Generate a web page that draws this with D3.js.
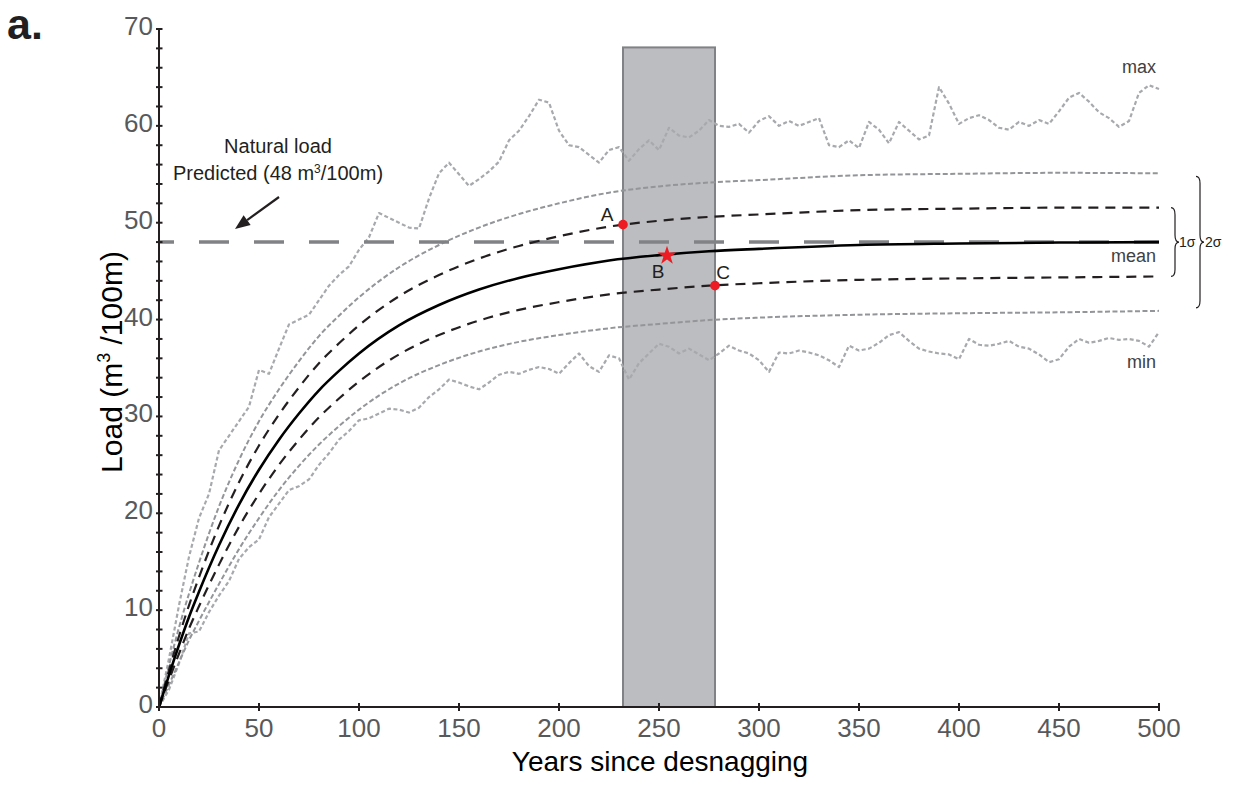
<!DOCTYPE html>
<html>
<head>
<meta charset="utf-8">
<script src="https://cdn.jsdelivr.net/npm/d3@7"></script>
<style>
  html, body { margin: 0; padding: 0; background: #fff; }
  svg { display: block; font-family: "Liberation Sans", Arial, Helvetica, sans-serif; }
</style>
</head>
<body>
<svg id="chart" width="1233" height="786"></svg>
<script>
// Years at which the smooth statistics (mean, ±1σ, ±2σ) are tabulated
const statYears = [0, 5, 10, 15, 20, 30, 40, 50, 60, 70, 80, 90, 100, 120, 140, 160, 180, 200, 225, 250, 275, 300, 350, 400, 450, 500];
const meanLoad  = [0, 3.3, 6.4, 9.3, 11.9, 16.7, 20.9, 24.5, 27.6, 30.3, 32.7, 34.7, 36.5, 39.4, 41.5, 43.1, 44.3, 45.2, 46.1, 46.65, 47.05, 47.3, 47.7, 47.85, 47.95, 48.0];
const plus1Load = [0, 3.8, 7.3, 10.5, 13.4, 18.7, 23.2, 27.0, 30.2, 33.0, 35.5, 37.55, 39.4, 42.4, 44.6, 46.3, 47.6, 48.6, 49.6, 50.2, 50.6, 50.85, 51.3, 51.45, 51.55, 51.55];
const minus1Load = [0, 2.8, 5.5, 8.1, 10.4, 14.7, 18.6, 22.0, 25.0, 27.6, 29.9, 31.85, 33.6, 36.4, 38.4, 39.9, 41.0, 41.8, 42.6, 43.1, 43.5, 43.75, 44.1, 44.25, 44.35, 44.45];
const plus2Load = [0, 4.3, 8.2, 11.7, 14.9, 20.7, 25.5, 29.5, 32.8, 35.7, 38.3, 40.4, 42.3, 45.4, 47.7, 49.5, 50.9, 52.0, 53.1, 53.75, 54.15, 54.4, 54.9, 55.05, 55.15, 55.1];
const minus2Load = [0, 2.3, 4.6, 6.9, 8.9, 12.7, 16.3, 19.5, 22.4, 24.9, 27.1, 29.0, 30.7, 33.4, 35.3, 36.7, 37.7, 38.4, 39.1, 39.55, 39.95, 40.2, 40.5, 40.65, 40.75, 40.9];

// Envelope of all simulations, every 5 years
const envYears = d3.range(0, 501, 5);
const maxLoad = [0, 5.0, 10.5, 15.5, 19.5, 22.0, 26.5, 28.0, 29.5, 31.0, 34.8, 34.4, 37.0, 39.5, 40.0, 40.5, 42.0, 43.5, 44.6, 45.5,
  47.2, 48.5, 51.0, 50.5, 50.0, 49.5, 49.4, 52.5, 55.1, 56.2, 55.0, 53.8, 54.5, 55.3, 56.3, 58.5, 59.5, 61.0, 62.7, 62.4,
  59.5, 58.0, 57.8, 57.0, 56.2, 57.5, 57.8, 56.4, 57.6, 58.5, 57.5, 59.8, 59.0, 58.8, 59.5, 60.6, 60.0, 59.9, 60.2, 59.3,
  60.5, 61.0, 60.0, 60.5, 60.0, 60.4, 60.8, 58.0, 57.8, 58.5, 57.7, 60.4, 59.6, 58.2, 60.4, 59.5, 58.6, 59.0, 64.0, 62.3,
  60.2, 60.8, 61.1, 60.6, 59.8, 59.6, 60.4, 60.0, 60.6, 60.2, 61.5, 62.9, 63.4, 62.5, 61.4, 60.8, 59.9, 60.5, 63.4, 64.2, 63.8];
const minLoad = [0, 1.8, 4.5, 7.6, 7.8, 9.8, 11.5, 13.0, 15.3, 16.5, 17.3, 19.6, 21.0, 22.4, 22.8, 23.5, 25.0, 26.2, 27.6, 28.5,
  29.6, 29.8, 30.3, 30.8, 30.7, 30.4, 30.9, 32.0, 32.8, 33.8, 33.5, 33.1, 32.8, 33.5, 34.3, 34.6, 34.4, 34.8, 35.1, 34.9,
  34.4, 35.5, 36.5, 35.2, 34.6, 36.3, 36.0, 33.8, 35.5, 36.5, 37.5, 37.2, 36.5, 37.0, 36.4, 35.8, 36.5, 37.3, 36.8, 36.5,
  35.8, 34.6, 36.6, 36.5, 36.8, 36.6, 36.3, 35.8, 35.1, 37.3, 36.8, 37.0, 37.6, 38.4, 38.7, 37.8, 37.0, 36.7, 36.5, 36.4,
  35.9, 38.0, 37.4, 37.3, 37.5, 37.8, 37.2, 37.0, 36.4, 35.6, 35.9, 37.2, 38.0, 37.6, 37.8, 38.1, 37.9, 38.0, 37.8, 37.2, 38.7];

// Predicted natural load and the restoration window
const naturalLoad = 48;
const windowYears = [232, 278];
const windowTop = 68.1;

// Labelled points: A on +1σ, B on the mean, C on −1σ
const pointLabels = ["A", "B", "C"];
const pointYears  = [232, 254, 278];
const pointLoads  = [49.8, 46.6, 43.5];

// Axis ticks
const xTicks = [0, 50, 100, 150, 200, 250, 300, 350, 400, 450, 500];
const yTicks = [0, 10, 20, 30, 40, 50, 60, 70];
const yMinorTicks = d3.range(0, 71, 2);

const svg = d3.select("#chart");
const x = d3.scaleLinear().domain([0, 500]).range([159, 1159]);
const y = d3.scaleLinear().domain([0, 70]).range([707, 29]);

const ink = "#231f20";

// Restoration window
svg.append("rect")
  .attr("x", x(windowYears[0]))
  .attr("y", y(windowTop))
  .attr("width", x(windowYears[1]) - x(windowYears[0]))
  .attr("height", y(0) - y(windowTop))
  .attr("fill", "#bcbdc0")
  .attr("stroke", "#818285")
  .attr("stroke-width", 2);

function drawSeries(xs, ys, style) {
  const line = d3.line()
    .x((d, i) => x(xs[i]))
    .y(d => y(d))
    .curve(style.curve || d3.curveLinear);
  svg.append("path")
    .datum(ys)
    .attr("d", line)
    .attr("fill", "none")
    .attr("stroke", style.color)
    .attr("stroke-width", style.width)
    .attr("stroke-dasharray", style.dash || null)
    .attr("stroke-linejoin", "round");
}

// Envelope (max / min of simulations)
const envStyle = { color: "#a7a9ac", width: 2.2, dash: "4,2.5" };
drawSeries(envYears, maxLoad, envStyle);
drawSeries(envYears, minLoad, envStyle);

// ±2σ
const sd2Style = { color: "#939598", width: 2, dash: "5,2.5", curve: d3.curveMonotoneX };
drawSeries(statYears, plus2Load, sd2Style);
drawSeries(statYears, minus2Load, sd2Style);

// Natural load reference line
svg.append("line")
  .attr("x1", x(0)).attr("x2", x(500))
  .attr("y1", y(naturalLoad)).attr("y2", y(naturalLoad))
  .attr("stroke", "#808285")
  .attr("stroke-width", 3.5)
  .attr("stroke-dasharray", "30,25")
  .attr("stroke-dashoffset", 15);

// ±1σ
const sd1Style = { color: ink, width: 2.2, dash: "10,7", curve: d3.curveMonotoneX };
drawSeries(statYears, plus1Load, sd1Style);
drawSeries(statYears, minus1Load, sd1Style);

// Mean
drawSeries(statYears, meanLoad, { color: "#000", width: 2.6, curve: d3.curveMonotoneX });

// Axes
const axisG = svg.append("g").attr("stroke", ink).attr("stroke-width", 2);
axisG.append("line").attr("x1", x(0)).attr("x2", x(0)).attr("y1", y(0)).attr("y2", y(70));
axisG.append("line").attr("x1", x(0)).attr("x2", x(500)).attr("y1", y(0)).attr("y2", y(0));
axisG.selectAll(".ytick").data(yMinorTicks).join("line")
  .attr("x1", x(0) - 3).attr("x2", x(0) + 3.5)
  .attr("y1", d => y(d)).attr("y2", d => y(d));
axisG.selectAll(".xtick").data(xTicks).join("line")
  .attr("x1", d => x(d)).attr("x2", d => x(d))
  .attr("y1", y(0) - 4).attr("y2", y(0) + 4);

svg.append("g").selectAll("text").data(yTicks).join("text")
  .attr("x", x(0) - 6)
  .attr("y", d => y(d) + 6)
  .attr("text-anchor", "end")
  .attr("font-size", 26)
  .attr("fill", "#58595b")
  .text(d => d);

svg.append("g").selectAll("text").data(xTicks).join("text")
  .attr("x", d => x(d))
  .attr("y", 737)
  .attr("text-anchor", "middle")
  .attr("font-size", 26)
  .attr("fill", "#58595b")
  .text(d => d);

// Axis titles
svg.append("text")
  .attr("x", 660).attr("y", 771)
  .attr("text-anchor", "middle")
  .attr("font-size", 28)
  .attr("fill", "#000")
  .text("Years since desnagging");

const yTitle = svg.append("text")
  .attr("transform", "translate(122,362) rotate(-90)")
  .attr("text-anchor", "middle")
  .attr("font-size", 30)
  .attr("fill", "#000");
yTitle.append("tspan").text("Load (m");
yTitle.append("tspan").attr("font-size", 18).attr("dy", -12).text("3");
yTitle.append("tspan").attr("dy", 12).text(" /100m)");

// Panel letter
svg.append("text")
  .attr("x", 7).attr("y", 39)
  .attr("font-size", 43)
  .attr("font-weight", "bold")
  .attr("fill", ink)
  .text("a.");

// Natural load annotation
svg.append("text")
  .attr("x", 278).attr("y", 153)
  .attr("text-anchor", "middle")
  .attr("font-size", 20)
  .attr("fill", ink)
  .text("Natural load");
const pred = svg.append("text")
  .attr("x", 278).attr("y", 180)
  .attr("text-anchor", "middle")
  .attr("font-size", 20)
  .attr("fill", ink);
pred.append("tspan").text("Predicted (" + naturalLoad + " m");
pred.append("tspan").attr("font-size", 12).attr("dy", -7).text("3");
pred.append("tspan").attr("dy", 7).text("/100m)");

// Arrow pointing at the reference line
(function () {
  const x0 = 279, y0 = 197, x1 = 235, y1 = 229;
  const ang = Math.atan2(y1 - y0, x1 - x0);
  const len = 15, half = 6;
  const bx = x1 - len * Math.cos(ang), by = y1 - len * Math.sin(ang);
  svg.append("line")
    .attr("x1", x0).attr("y1", y0).attr("x2", bx).attr("y2", by)
    .attr("stroke", ink).attr("stroke-width", 2.2);
  const px = -Math.sin(ang), py = Math.cos(ang);
  svg.append("path")
    .attr("d", `M${x1},${y1}L${bx + half * px},${by + half * py}L${bx - half * px},${by - half * py}Z`)
    .attr("fill", ink);
})();

// Marked points
const pts = pointLabels.map((l, i) => ({ label: l, t: pointYears[i], v: pointLoads[i] }));
pts.forEach(p => {
  if (p.label === "B") {
    svg.append("path")
      .attr("d", d3.symbol(d3.symbolStar, 110)())
      .attr("transform", `translate(${x(p.t)},${y(p.v)})`)
      .attr("fill", "#ed1c24");
  } else {
    svg.append("circle")
      .attr("cx", x(p.t)).attr("cy", y(p.v)).attr("r", 4.8)
      .attr("fill", "#ed1c24");
  }
});
const labelOffsets = { A: [-16, -4], B: [-9, 22], C: [8, -7] };
pts.forEach(p => {
  const o = labelOffsets[p.label];
  svg.append("text")
    .attr("x", x(p.t) + o[0]).attr("y", y(p.v) + o[1])
    .attr("text-anchor", "middle")
    .attr("font-size", 19)
    .attr("fill", ink)
    .text(p.label);
});

// Series labels at the right end
const endLabels = [
  { text: "max", yy: 73 },
  { text: "mean", yy: 262 },
  { text: "min", yy: 368 }
];
svg.append("g").selectAll("text").data(endLabels).join("text")
  .attr("x", 1156).attr("y", d => d.yy)
  .attr("text-anchor", "end")
  .attr("font-size", 18)
  .attr("fill", "#414042")
  .text(d => d.text);

// Braces marking the 1σ and 2σ bands
function brace(x0, ya, yb, w) {
  const ym = (ya + yb) / 2, q = 7, xm = x0 + w / 2;
  return `M${x0},${ya}Q${xm},${ya} ${xm},${ya + q}L${xm},${ym - q}Q${xm},${ym} ${x0 + w},${ym}` +
         `Q${xm},${ym} ${xm},${ym + q}L${xm},${yb - q}Q${xm},${yb} ${x0},${yb}`;
}
const last = statYears.length - 1;
svg.append("path")
  .attr("d", brace(1171, y(plus1Load[last]), y(minus1Load[last]), 8))
  .attr("fill", "none").attr("stroke", ink).attr("stroke-width", 1.2);
svg.append("path")
  .attr("d", brace(1196, y(plus2Load[last]) + 3, y(minus2Load[last]) - 3, 8))
  .attr("fill", "none").attr("stroke", ink).attr("stroke-width", 1.2);
svg.append("text").attr("x", 1179).attr("y", 247).attr("font-size", 14).attr("fill", ink).text("1σ");
svg.append("text").attr("x", 1205).attr("y", 247).attr("font-size", 14).attr("fill", ink).text("2σ");
</script>
</body>
</html>
